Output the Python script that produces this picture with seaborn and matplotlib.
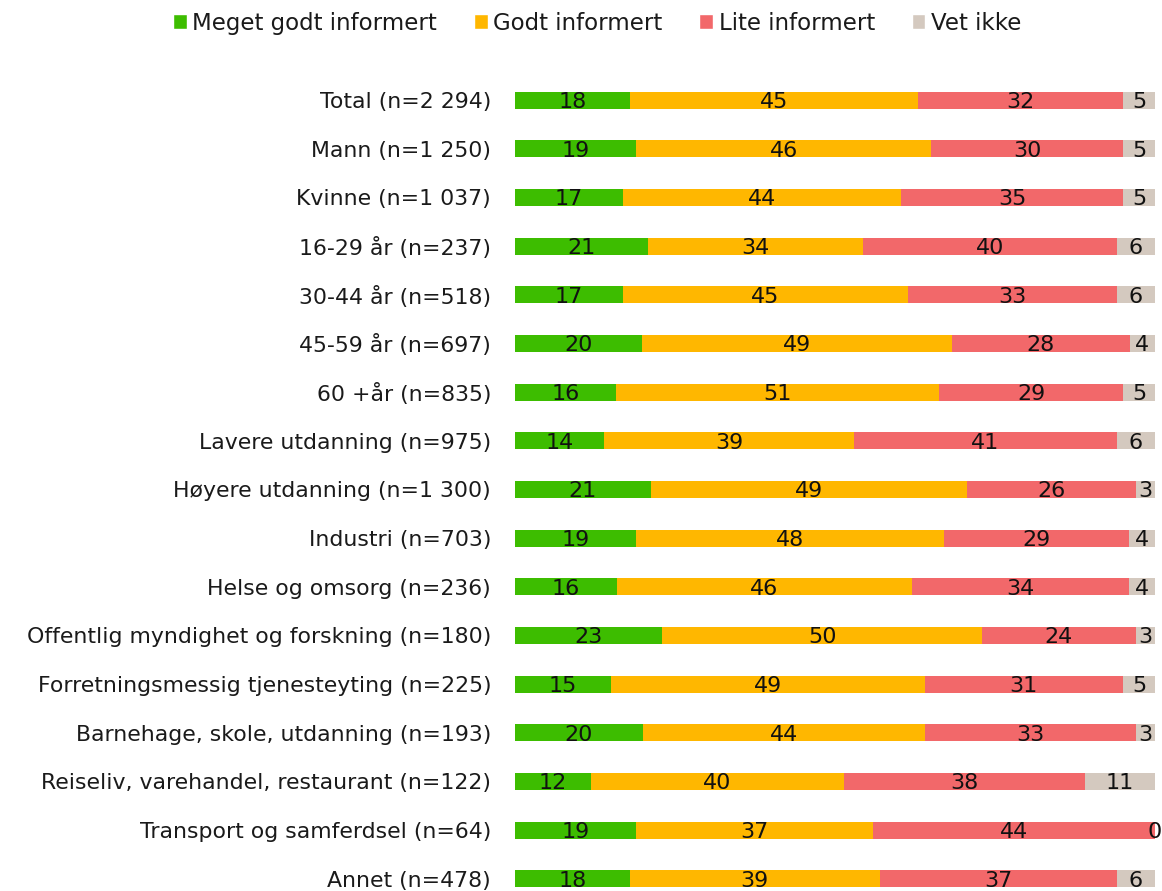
import pandas as pd
import matplotlib.pyplot as plt
import seaborn as sns
from matplotlib.patches import Patch

categories = [
    "Total (n=2 294)", "Mann (n=1 250)", "Kvinne (n=1 037)", "16-29 år (n=237)",
    "30-44 år (n=518)", "45-59 år (n=697)", "60 +år (n=835)",
    "Lavere utdanning (n=975)", "Høyere utdanning (n=1 300)", "Industri (n=703)",
    "Helse og omsorg (n=236)", "Offentlig myndighet og forskning (n=180)",
    "Forretningsmessig tjenesteyting (n=225)", "Barnehage, skole, utdanning (n=193)",
    "Reiseliv, varehandel, restaurant (n=122)", "Transport og samferdsel (n=64)",
    "Annet (n=478)",
]
meget_godt = [18, 19, 17, 21, 17, 20, 16, 14, 21, 19, 16, 23, 15, 20, 12, 19, 18]
godt = [45, 46, 44, 34, 45, 49, 51, 39, 49, 48, 46, 50, 49, 44, 40, 37, 39]
lite = [32, 30, 35, 40, 33, 28, 29, 41, 26, 29, 34, 24, 31, 33, 38, 44, 37]
vet_ikke = [5, 5, 5, 6, 6, 4, 5, 6, 3, 4, 4, 3, 5, 3, 11, 0, 6]

series_names = ["Meget godt informert", "Godt informert", "Lite informert", "Vet ikke"]
colors = ["#3dbd00", "#ffb700", "#f2686a", "#d4c9bf"]

df = pd.DataFrame(dict(zip(series_names, [meget_godt, godt, lite, vet_ikke])), index=categories)
# 100 % stacked: each row fills the full width
shares = df.div(df.sum(axis=1), axis=0) * 100
cum = shares.cumsum(axis=1)

sns.set_theme(style="white")
plt.rcParams["font.family"] = ["DejaVu Sans"]

fig = plt.figure(figsize=(11.62, 8.91), dpi=100)
ax = fig.add_axes([0.443, 0.0, 0.551, 0.915])

plot_df = cum.reset_index(names="category")
for name, color in reversed(list(zip(series_names, colors))):
    sns.barplot(data=plot_df, x=name, y="category", color=color, orient="h",
                width=0.35, saturation=1, errorbar=None, linewidth=0, ax=ax)

for i, cat in enumerate(categories):
    for name in series_names:
        center = cum.loc[cat, name] - shares.loc[cat, name] / 2
        ax.text(center, i + 0.04, str(df.loc[cat, name]), ha="center", va="center",
                fontsize=16, color="#111111")

ax.set_xlim(0, 100)
ax.set_ylim(16.25, -0.5)
ax.set_xlabel("")
ax.set_ylabel("")
ax.set_xticks([])
ax.tick_params(axis="y", length=0, pad=17, labelsize=15.8, labelcolor="#1a1a1a")
sns.despine(ax=ax, left=True, bottom=True)

handles = [Patch(facecolor=c, label=n) for n, c in zip(series_names, colors)]
fig.legend(handles=handles, loc="center", bbox_to_anchor=(0.514, 0.974), ncol=4,
           frameon=False, fontsize=16.5, handlelength=0.6, handleheight=0.6,
           handletextpad=0.25, columnspacing=1.6, labelcolor="#1a1a1a")

fig.savefig("out.png", dpi=100)
